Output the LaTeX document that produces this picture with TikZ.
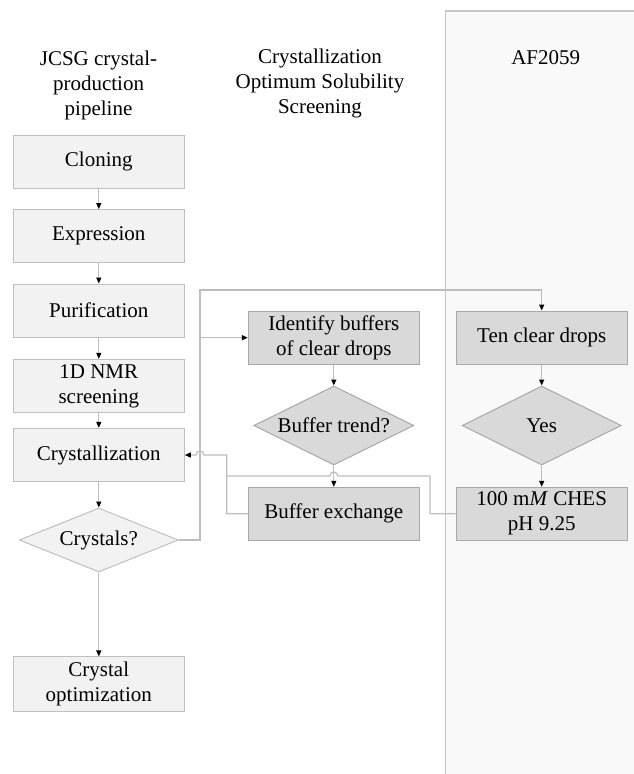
\documentclass[tikz,border=0pt]{standalone}
\usepackage{fontspec}
\setmainfont{Liberation Serif}
\usetikzlibrary{shapes.geometric,arrows.meta}
\definecolor{lightfill}{HTML}{F2F2F2}
\definecolor{lightline}{HTML}{BFBFBF}
\definecolor{darkfill}{HTML}{D9D9D9}
\definecolor{darkline}{HTML}{A8A8A8}
\definecolor{panelfill}{HTML}{F9F9F9}
\definecolor{panelline}{HTML}{C6C6C6}
\definecolor{connline}{HTML}{BDBDBD}
\begin{document}
\begin{tikzpicture}[x=1pt,y=-1pt,
  txt/.style={font=\fontsize{21}{25}\selectfont, align=center, inner sep=0pt},
  lbox/.style={txt, rectangle, draw=lightline, fill=lightfill, line width=1pt, minimum width=171pt, minimum height=53.3pt},
  dbox/.style={lbox, draw=darkline, fill=darkfill},
  ldia/.style={txt, diamond, draw=lightline, fill=lightfill, line width=1pt},
  ddia/.style={ldia, draw=darkline, fill=darkfill},
  conn/.style={draw=connline, line width=1.2pt},
  arr/.style={conn, -{Triangle[length=6pt,width=5pt,color=black]}},
  panel/.style={fill=panelfill, draw=panelline, line width=1.5pt}
]
\useasboundingbox (0,0) rectangle (633,774);
\draw[panel] (445.7,11) rectangle (645,790);

% headers
\node[txt] (h1) at (98.5,85) {JCSG crystal-\\production\\pipeline};
\node[txt] (h2) at (320,83) {Crystallization\\Optimum Solubility\\Screening};
\node[txt] (h3) at (545.7,58) {AF2059};

% left column
\node[lbox] (clon) at (98.8,161.7) {Cloning};
\node[lbox] (expr) at (98.8,236.2) {Expression};
\node[lbox] (puri) at (98.8,310.7) {Purification};
\node[lbox] (nmr) at (98.8,386) {1D NMR\\screening};
\node[lbox] (cryst) at (98.8,455) {Crystallization};
\node[ldia, minimum width=159pt, minimum height=64pt] (cq) at (98.8,540) {\makebox[0pt]{Crystals?}};
\node[lbox, minimum height=54.7pt] (copt) at (98.8,684.3) {Crystal\\optimization};

% middle column
\node[dbox] (ident) at (333.8,337.7) {Identify buffers\\of clear drops};
\node[ddia, minimum width=160pt, minimum height=79pt] (bt) at (333.8,425.5) {\makebox[0pt]{Buffer trend?}};
\node[dbox, minimum height=52.7pt] (bex) at (333.8,513.7) {Buffer exchange};

% right column
\node[dbox] (ten) at (541.7,337.7) {Ten clear drops};
\node[ddia, minimum width=159pt, minimum height=79pt] (yes) at (541.7,425.5) {\makebox[0pt]{Yes}};
\node[dbox, minimum height=52.7pt] (ches) at (541.7,513.7) {100 m\textit{M}~CHES\\pH 9.25};

% junction coordinates
\coordinate (j1) at (200,290);
\coordinate (j2) at (226.7,455);
\coordinate (j3) at (430,476);

% left column arrows
\draw[arr] (clon) -- (expr);
\draw[arr] (expr) -- (puri);
\draw[arr] (puri) -- (nmr);
\draw[arr] (nmr) -- (cryst);
\draw[arr] (cryst) -- (cq);
\draw[arr] (cq) -- (copt);

% crystals? -> screening
\draw[arr] (cq.east) -| (j1) -| (ten.north);
\draw[arr] (ident.west -| j1) -- (ident.west);

% middle & right arrows
\draw[arr] (ident) -- (bt);
\draw[arr] (bt) -- (bex);
\draw[arr] (ten) -- (yes);
\draw[arr] (yes) -- (ches);

% return paths
\draw[arr] (bex.west) -| (j2) -- (204,455) arc[start angle=0,end angle=180,radius=4pt] -- (cryst.east);
\draw[conn] (ches.west) -| (j3) -- (337.8,476) arc[start angle=0,end angle=180,radius=4pt] -- (226.7,476);
\end{tikzpicture}
\end{document}
